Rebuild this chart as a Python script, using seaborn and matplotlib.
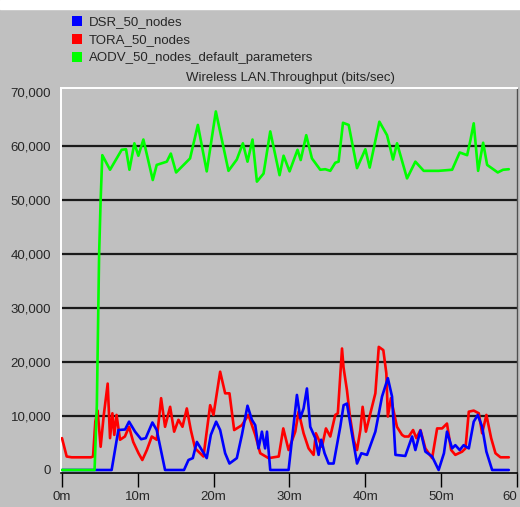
import matplotlib
matplotlib.use("Agg")
import matplotlib.pyplot as plt
from matplotlib.patches import Patch, Rectangle
from matplotlib.ticker import FuncFormatter
import pandas as pd
import seaborn as sns

# simulation time (minutes) and throughput (bits/sec)
t_dsr = [0, 6.55, 7.44, 8.32, 8.85, 9.64, 10.44, 11.05, 11.93, 12.5,
         13.6, 16.1, 16.69, 17.26, 17.8, 18.45, 19.1, 19.64, 20.34, 20.87,
         21.53, 22.1, 23.07, 23.74, 24.48, 25.06, 25.5, 25.93, 26.38, 26.8,
         27.05, 27.48, 29.9, 31.0, 31.44, 31.88, 32.32, 32.76, 33.42, 33.86,
         34.2, 34.65, 35.18, 35.84, 36.72, 37.16, 37.6, 38.18, 38.93, 39.5,
         40.25, 41.35, 42.23, 43.0, 43.55, 44.0, 45.3, 46.2, 46.63, 47.3,
         47.95, 48.84, 49.7, 50.4, 50.8, 51.48, 51.9, 52.48, 53.0, 53.68,
         54.33, 54.86, 55.44, 56.0, 56.76, 58.96]
dsr = [0, 0, 7400, 7500, 8950, 7100, 5700, 5900, 8800, 7400,
       0, 0, 1850, 2200, 5200, 3700, 2200, 6500, 8950, 7400,
       3100, 1200, 2200, 6500, 11900, 9300, 8300, 4000, 7100, 4000,
       7100, 0, 0, 13900, 9600, 11400, 15100, 8000, 5900, 2800,
       5600, 3100, 1200, 1200, 8000, 12000, 12300, 7400, 1200, 3100,
       2800, 7100, 13600, 17000, 13600, 2800, 2600, 6200, 3700, 7300,
       3400, 2500, 0, 3100, 7100, 4000, 4600, 3700, 4600, 4000,
       8950, 10200, 8000, 3400, 0, 0]

t_tora = [0, 0.62, 1.28, 3.83, 4.1, 4.4, 4.7, 5.1, 5.5, 6.03,
          6.34, 6.65, 6.9, 7.2, 7.66, 8.3, 8.85, 9.4, 10.1, 10.6,
          11.2, 11.85, 12.5, 13.08, 13.6, 14.27, 14.8, 15.37, 15.9, 16.47,
          17.0, 17.57, 18.23, 18.67, 19.55, 19.99, 20.87, 21.53, 22.1, 22.72,
          23.74, 24.6, 25.5, 26.16, 27.25, 28.6, 29.2, 29.9, 30.78, 31.22,
          31.88, 32.54, 33.2, 33.5, 34.3, 34.83, 35.4, 36.06, 36.4, 36.95,
          37.15, 37.6, 38.0, 38.5, 38.93, 39.37, 39.67, 40.1, 40.8, 41.35,
          41.8, 42.4, 42.8, 43.0, 43.4, 44.2, 44.87, 45.2, 45.75, 46.33,
          46.76, 47.3, 47.95, 48.84, 49.5, 50.16, 50.8, 51.35, 51.9, 52.8,
          53.24, 53.68, 54.33, 55.0, 55.44, 56.0, 56.63, 57.2, 57.86, 58.96]
tora = [5900, 2500, 2350, 2350, 2500, 9000, 11000, 4300, 10000, 16000,
        5900, 10500, 6500, 10200, 5600, 6200, 8000, 5200, 3100, 1850,
        3700, 6200, 5600, 13300, 8000, 11700, 7100, 9300, 8000, 11400,
        7400, 4000, 3100, 2500, 12000, 10200, 18200, 14200, 14200, 7400,
        8300, 10200, 6500, 3100, 2200, 2500, 7700, 3700, 7100, 10800,
        6800, 4000, 2800, 6800, 4300, 7700, 6200, 10200, 10500, 22500,
        19000, 14800, 9900, 5500, 3700, 7400, 11700, 7100, 11100, 14200,
        22800, 22200, 17900, 9900, 13300, 8000, 6500, 6200, 6200, 7400,
        5900, 7400, 4000, 2200, 7700, 7700, 8600, 3700, 2800, 3400,
        4000, 10800, 11000, 10500, 6800, 10200, 5900, 3100, 2350, 2350]

t_aodv = [0, 4.3, 4.6, 4.9, 5.1, 5.32, 6.34, 7.88, 8.45, 8.9,
          9.55, 10.08, 10.74, 11.98, 12.5, 13.83, 14.36, 15.06, 16.9, 17.93,
          19.1, 20.3, 21.97, 23.07, 23.87, 24.48, 25.14, 25.72, 26.6, 27.48,
          28.71, 29.24, 30.03, 31.08, 31.5, 32.23, 32.98, 34.08, 34.74, 35.4,
          36.06, 36.5, 37.08, 37.83, 38.93, 40.03, 40.6, 41.88, 42.89, 43.68,
          44.21, 45.53, 46.63, 47.73, 49.71, 51.48, 52.48, 53.46, 53.9, 54.33,
          54.91, 55.57, 56.1, 57.5, 58.2, 58.96]
aodv = [0, 0, 12000, 40000, 50000, 58300, 55600, 59300, 59400, 55600,
        60500, 58200, 61200, 53700, 56500, 57100, 58600, 55100, 57700, 63900,
        55300, 66400, 55400, 57500, 60500, 57100, 61200, 53400, 54900, 62700,
        54600, 58200, 55300, 59300, 57400, 62000, 57700, 55600, 55700, 55400,
        56900, 57100, 64300, 63900, 55900, 59400, 56000, 64500, 62000, 57500,
        60500, 54000, 57100, 55400, 55400, 55600, 58800, 58300, 61100, 64200,
        55400, 60600, 56500, 55100, 55600, 55700]

series_names = ["DSR_50_nodes", "TORA_50_nodes", "AODV_50_nodes_default_parameters"]
series_colors = ["#0000ff", "#ff0000", "#00ff00"]
x_ticks = [0, 10, 20, 30, 40, 50, 60]
x_tick_labels = ["0m", "10m", "20m", "30m", "40m", "50m", "60"]
y_ticks = [0, 10000, 20000, 30000, 40000, 50000, 60000, 70000]

df = pd.concat([
    pd.DataFrame({"time": t_dsr, "throughput": dsr, "run": series_names[0]}),
    pd.DataFrame({"time": t_tora, "throughput": tora, "run": series_names[1]}),
    pd.DataFrame({"time": t_aodv, "throughput": aodv, "run": series_names[2]}),
])

sns.set_style("white")
plt.rcParams["font.family"] = ["Liberation Sans", "DejaVu Sans"]
bg = "#c0c0c0"

fig = plt.figure(figsize=(5.2, 5.07), dpi=100, facecolor=bg)
ax = fig.add_axes([61 / 520, 34 / 507, 456 / 520, 385 / 507])
ax.set_facecolor(bg)

# grid lines behind the curves
for yv in y_ticks[1:-1]:
    ax.axhline(yv, color="#1a1a1a", lw=1.6, zorder=1)

palette = dict(zip(series_names, series_colors))
for name in [series_names[1], series_names[0], series_names[2]]:
    sns.lineplot(data=df[df["run"] == name], x="time", y="throughput",
                 color=palette[name], lw=1.9, sort=False, estimator=None,
                 ax=ax, zorder=3)

ax.set_xlim(-0.13, 60.04)
ax.set_ylim(-556, 70740)
ax.set_xticks(x_ticks)
ax.set_xticklabels(x_tick_labels)
ax.get_xticklabels()[-1].set_horizontalalignment("right")
ax.yaxis.set_major_formatter(FuncFormatter(lambda v, p: f"{int(v):,}"))
ax.set_yticks(y_ticks)
ax.set_xlabel("")
ax.set_ylabel("")
ax.tick_params(axis="x", length=10, width=1, color="black", pad=3,
               labelsize=9.5, direction="out", bottom=True)
ax.tick_params(axis="y", length=0, pad=7, labelsize=9.5, left=True)

for side in ["top", "left"]:
    ax.spines[side].set_color("white")
    ax.spines[side].set_linewidth(1.4)
ax.spines["bottom"].set_color("black")
ax.spines["bottom"].set_linewidth(1.2)
ax.spines["right"].set_color("#505050")
ax.spines["right"].set_linewidth(1.0)

fig.patches.append(Rectangle((0, 1 - 9 / 507), 1, 9 / 507,
                             transform=fig.transFigure, color="white", zorder=0))

handles = [Patch(facecolor=c, edgecolor="none") for c in series_colors]
fig.legend(handles, series_names, loc="upper left",
           bbox_to_anchor=(72 / 520, 1 - 16 / 507), frameon=False,
           fontsize=9.5, handlelength=0.75, handleheight=0.75,
           handletextpad=0.55, labelspacing=0.42, borderaxespad=0,
           borderpad=0)

fig.text(290 / 520, 1 - 78 / 507, "Wireless LAN.Throughput (bits/sec)",
         ha="center", va="center", fontsize=9.5)

fig.savefig("out.png", dpi=100, facecolor=bg)
